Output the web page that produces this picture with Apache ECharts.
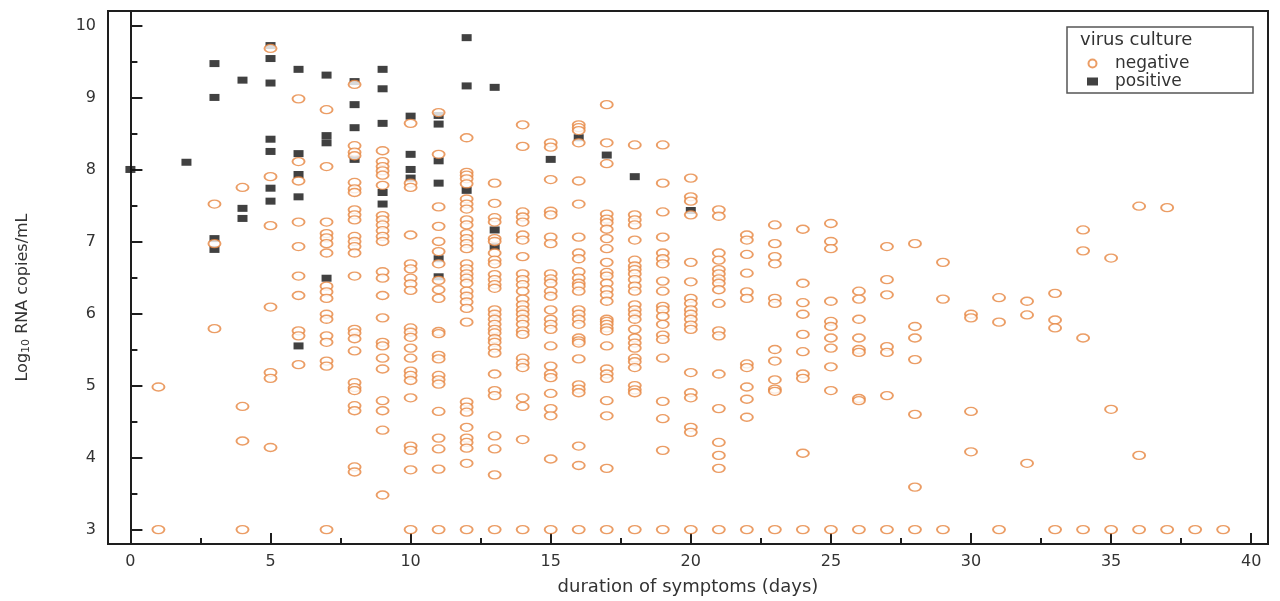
<!DOCTYPE html>
<html>
<head>
<meta charset="utf-8">
<title>RNA copies vs duration of symptoms</title>
<script src="https://cdn.jsdelivr.net/npm/echarts@6/dist/echarts.min.js"></script>
<style>
  html, body { margin: 0; padding: 0; background: #fff; }
  #chart { width: 1280px; height: 601px; }
</style>
</head>
<body>
<div id="chart"></div>
<script>
// tick positions
const xTicks = [0, 5, 10, 15, 20, 25, 30, 35, 40];
const xMinorTicks = [2.5, 7.5, 12.5, 17.5, 22.5, 27.5, 32.5, 37.5];
const yTicks = [3, 4, 5, 6, 7, 8, 9, 10];
const yMinorTicks = [3.5, 4.5, 5.5, 6.5, 7.5, 8.5, 9.5];

// virus culture negative: [day, log10 values]
const negativeByDay = [
  [1, [4.98, 3.0]],
  [3, [7.52, 6.97, 5.79]],
  [4, [7.75, 4.71, 4.23, 3.0]],
  [5, [9.68, 7.9, 7.22, 6.09, 5.18, 5.1, 4.14]],
  [6, [8.98, 8.11, 7.84, 7.27, 6.93, 6.52, 6.25, 5.76, 5.69, 5.29]],
  [7, [8.83, 8.04, 7.27, 7.11, 7.05, 6.97, 6.84, 6.38, 6.3, 6.21, 5.99, 5.92, 5.69, 5.6, 5.34, 5.27, 3.0]],
  [8, [9.18, 8.33, 8.24, 8.19, 7.82, 7.73, 7.68, 7.44, 7.37, 7.3, 7.07, 7.0, 6.93, 6.84, 6.52, 5.78, 5.73, 5.65, 5.48, 5.04, 4.97, 4.93, 4.72, 4.65, 3.87, 3.8]],
  [9, [8.26, 8.11, 8.04, 7.98, 7.92, 7.78, 7.36, 7.3, 7.23, 7.15, 7.07, 7.0, 6.58, 6.49, 6.25, 5.94, 5.6, 5.55, 5.38, 5.23, 4.79, 4.65, 4.38, 3.48]],
  [10, [8.64, 7.81, 7.75, 7.09, 6.69, 6.62, 6.49, 6.41, 6.32, 5.8, 5.74, 5.67, 5.52, 5.38, 5.2, 5.14, 5.07, 4.83, 4.16, 4.1, 3.83, 3.0]],
  [11, [8.79, 8.21, 7.48, 7.21, 7.0, 6.86, 6.69, 6.46, 6.33, 6.21, 5.75, 5.72, 5.42, 5.37, 5.14, 5.08, 5.02, 4.64, 4.27, 4.12, 3.84, 3.0]],
  [12, [8.44, 7.96, 7.92, 7.87, 7.8, 7.59, 7.52, 7.45, 7.3, 7.23, 7.11, 7.04, 6.97, 6.9, 6.69, 6.62, 6.55, 6.49, 6.42, 6.31, 6.24, 6.16, 6.07, 5.88, 4.77, 4.7, 4.63, 4.42, 4.27, 4.21, 4.13, 3.92, 3.0]],
  [13, [7.81, 7.53, 7.33, 7.27, 7.04, 7.0, 6.84, 6.74, 6.69, 6.54, 6.47, 6.4, 6.35, 6.05, 5.99, 5.92, 5.85, 5.78, 5.73, 5.65, 5.6, 5.52, 5.45, 5.16, 4.93, 4.86, 4.3, 4.12, 3.76, 3.0]],
  [14, [8.62, 8.32, 7.41, 7.34, 7.27, 7.09, 7.02, 6.79, 6.55, 6.47, 6.4, 6.31, 6.2, 6.12, 6.05, 5.99, 5.92, 5.85, 5.76, 5.71, 5.38, 5.31, 5.25, 4.83, 4.71, 4.25, 3.0]],
  [15, [8.37, 8.31, 7.86, 7.42, 7.37, 7.06, 6.97, 6.55, 6.48, 6.42, 6.31, 6.24, 6.05, 5.92, 5.85, 5.78, 5.55, 5.27, 5.16, 5.11, 4.89, 4.68, 4.58, 3.98, 3.0]],
  [16, [8.62, 8.58, 8.54, 8.37, 7.84, 7.52, 7.06, 6.84, 6.76, 6.58, 6.49, 6.42, 6.38, 6.31, 6.05, 5.99, 5.92, 5.85, 5.66, 5.62, 5.59, 5.37, 5.01, 4.95, 4.9, 4.16, 3.89, 3.0]],
  [17, [8.9, 8.37, 8.08, 7.38, 7.31, 7.26, 7.17, 7.04, 6.9, 6.71, 6.57, 6.52, 6.42, 6.33, 6.26, 6.17, 5.92, 5.89, 5.85, 5.8, 5.76, 5.55, 5.23, 5.16, 5.1, 4.79, 4.58, 3.85, 3.0]],
  [18, [8.34, 7.37, 7.3, 7.23, 7.02, 6.74, 6.66, 6.61, 6.55, 6.47, 6.38, 6.31, 6.12, 6.05, 5.99, 5.92, 5.78, 5.66, 5.59, 5.52, 5.38, 5.33, 5.25, 5.0, 4.94, 4.9, 3.0]],
  [19, [8.34, 7.81, 7.41, 7.06, 6.84, 6.76, 6.69, 6.45, 6.31, 6.1, 6.05, 5.96, 5.85, 5.7, 5.64, 5.38, 4.78, 4.54, 4.1, 3.0]],
  [20, [7.88, 7.62, 7.56, 7.37, 6.71, 6.44, 6.21, 6.14, 6.05, 5.99, 5.92, 5.84, 5.78, 5.18, 4.9, 4.83, 4.42, 4.35, 3.0]],
  [21, [7.44, 7.35, 6.84, 6.74, 6.61, 6.55, 6.48, 6.42, 6.33, 6.14, 5.76, 5.69, 5.16, 4.68, 4.21, 4.03, 3.85, 3.0]],
  [22, [7.09, 7.02, 6.82, 6.56, 6.3, 6.21, 5.3, 5.25, 4.98, 4.81, 4.56, 3.0]],
  [23, [7.23, 6.97, 6.79, 6.69, 6.21, 6.14, 5.5, 5.34, 5.08, 4.95, 4.92, 3.0]],
  [24, [7.17, 6.42, 6.15, 5.99, 5.71, 5.47, 5.16, 5.1, 4.06, 3.0]],
  [25, [7.25, 7.0, 6.9, 6.17, 5.89, 5.82, 5.66, 5.52, 5.26, 4.93, 3.0]],
  [26, [6.31, 6.2, 5.92, 5.66, 5.5, 5.46, 4.82, 4.79, 3.0]],
  [27, [6.93, 6.47, 6.26, 5.54, 5.46, 4.86, 3.0]],
  [28, [6.97, 5.82, 5.66, 5.36, 4.6, 3.59, 3.0]],
  [29, [6.71, 6.2, 3.0]],
  [30, [5.99, 5.94, 4.64, 4.08]],
  [31, [6.22, 5.88, 3.0]],
  [32, [6.17, 5.98, 3.92]],
  [33, [6.28, 5.91, 5.8, 3.0]],
  [34, [7.16, 6.87, 5.66, 3.0]],
  [35, [6.77, 4.67, 3.0]],
  [36, [7.49, 4.03, 3.0]],
  [37, [7.47, 3.0]],
  [38, [3.0]],
  [39, [3.0]]
];

// virus culture positive: [day, log10 values]
const positiveByDay = [
  [0, [8.0]],
  [2, [8.1]],
  [3, [9.47, 9.0, 7.04, 6.89]],
  [4, [9.24, 7.46, 7.32]],
  [5, [9.72, 9.54, 9.2, 8.42, 8.25, 7.74, 7.56]],
  [6, [9.39, 8.22, 7.93, 7.62, 5.55]],
  [7, [9.31, 8.47, 8.37, 6.49]],
  [8, [9.22, 8.9, 8.58, 8.14]],
  [9, [9.39, 9.12, 8.64, 7.68, 7.52]],
  [10, [8.74, 8.21, 8.0, 7.88]],
  [11, [8.75, 8.63, 8.12, 7.81, 6.76, 6.51]],
  [12, [9.83, 9.16, 7.71]],
  [13, [9.14, 7.16, 6.93]],
  [15, [8.14]],
  [16, [8.44]],
  [17, [8.2]],
  [18, [7.9]],
  [20, [7.43]]
];

const toPoints = list => list.flatMap(([day, vals]) => vals.map(v => [day, v]));

const axisColor = '#1e1e1e';
const textColor = '#333';
const font = 'DejaVu Sans';

const chart = echarts.init(document.getElementById('chart'));
chart.setOption({
  animation: false,
  grid: {
    left: 108, right: 12, top: 11, bottom: 51,
    show: true, borderColor: axisColor, borderWidth: 2
  },
  legend: {
    orient: 'vertical',
    left: 1082, top: 50,
    itemGap: 1, itemWidth: 11, itemHeight: 8,
    textStyle: { fontFamily: font, fontSize: 17, color: textColor, padding: [0, 0, 0, 12] },
    data: [
      { name: 'negative', icon: 'circle' },
      { name: 'positive', icon: 'rect' }
    ]
  },
  graphic: [
    {
      type: 'rect', z: 0,
      shape: { x: 1067, y: 27, width: 186, height: 66 },
      style: { fill: '#fff', stroke: '#555', lineWidth: 1.5 }
    },
    {
      type: 'text', z: 1, left: 1080, top: 31,
      style: { text: 'virus culture', fontFamily: font, fontSize: 18, fill: textColor }
    }
  ],
  xAxis: [
    {
      type: 'value', min: -0.8, max: 40.6,
      name: 'duration of symptoms (days)',
      nameLocation: 'middle', nameGap: 34,
      nameTextStyle: { fontFamily: font, fontSize: 18, color: textColor },
      axisLine: { lineStyle: { color: axisColor, width: 2 } },
      axisTick: { inside: true, length: 11, customValues: xTicks, lineStyle: { color: axisColor, width: 2 } },
      axisLabel: { customValues: xTicks, margin: 10, fontFamily: font, fontSize: 16, color: textColor },
      splitLine: { show: false }
    },
    {
      type: 'value', min: -0.8, max: 40.6, position: 'bottom',
      axisLine: { show: false },
      axisTick: { inside: true, length: 6, customValues: xMinorTicks, lineStyle: { color: axisColor, width: 2 } },
      axisLabel: { show: false },
      splitLine: { show: false }
    }
  ],
  yAxis: [
    {
      type: 'value', min: 2.8, max: 10.2,
      name: 'Log{sub|10} RNA copies/mL',
      nameLocation: 'middle', nameGap: 76,
      nameTextStyle: {
        fontFamily: font, fontSize: 16, color: textColor, padding: [0, 40, 0, 0],
        rich: { sub: { fontFamily: font, fontSize: 11, color: textColor, verticalAlign: 'bottom', padding: [7, 0, 0, 0] } }
      },
      axisLine: { lineStyle: { color: axisColor, width: 2 } },
      axisTick: { inside: true, length: 12, customValues: yTicks, lineStyle: { color: axisColor, width: 2 } },
      axisLabel: { customValues: yTicks, margin: 12, fontFamily: font, fontSize: 16, color: textColor },
      splitLine: { show: false }
    },
    {
      type: 'value', min: 2.8, max: 10.2, position: 'left',
      axisLine: { show: false },
      axisTick: { inside: true, length: 7, customValues: yMinorTicks, lineStyle: { color: axisColor, width: 2 } },
      axisLabel: { show: false },
      splitLine: { show: false }
    }
  ],
  series: [
    {
      name: 'positive', type: 'scatter',
      symbol: 'rect', symbolSize: [10, 7],
      itemStyle: { color: '#111' },
      z: 2,
      data: toPoints(positiveByDay)
    },
    {
      name: 'negative', type: 'scatter',
      symbol: 'circle', symbolSize: [12, 8],
      itemStyle: { color: '#fff', borderColor: '#e6843e', borderWidth: 1.6 },
      z: 3,
      data: toPoints(negativeByDay)
    }
  ]
});
</script>
</body>
</html>
